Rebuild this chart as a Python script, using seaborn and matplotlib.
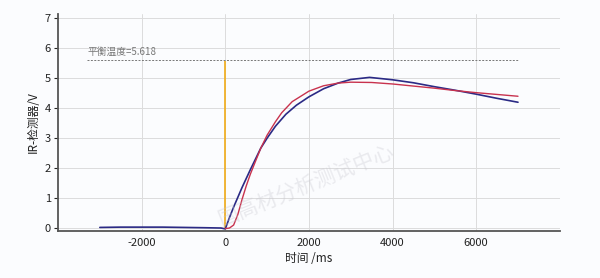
import matplotlib
matplotlib.use("Agg")
import matplotlib.pyplot as plt
import seaborn as sns
import pandas as pd

# ---- data ----
blue_t = [-3000, -2500, -2000, -1500, -1000, -500, -100, 0, 100, 200, 400, 600, 850, 1000,
          1200, 1450, 1700, 2000, 2350, 2700, 3000, 3450, 4000, 4500, 5000, 5500, 6000, 6500, 7000]
blue_v = [0.02, 0.03, 0.03, 0.03, 0.02, 0.01, 0.0, -0.03, 0.35, 0.7, 1.35, 1.95, 2.67, 3.0,
          3.4, 3.8, 4.1, 4.38, 4.65, 4.84, 4.96, 5.03, 4.95, 4.85, 4.72, 4.6, 4.47, 4.33, 4.2]
red_t = [0, 100, 200, 300, 400, 500, 600, 700, 850, 1000, 1200, 1350, 1600, 2000, 2350,
         2700, 3000, 3500, 4000, 4500, 5000, 5500, 6000, 6500, 7000]
red_v = [-0.02, 0.0, 0.1, 0.45, 0.95, 1.4, 1.8, 2.15, 2.67, 3.1, 3.55, 3.85, 4.22, 4.57, 4.75,
         4.84, 4.87, 4.86, 4.81, 4.74, 4.67, 4.59, 4.52, 4.46, 4.4]
trigger_t = [0]
trigger_top = [5.58]
equil_value = 5.618
equil_span = [-3300, 7000]
x_ticks = [-2000, 0, 2000, 4000, 6000]
y_ticks = [0, 1, 2, 3, 4, 5, 6, 7]

sns.set_theme(style="whitegrid")
plt.rcParams['font.family'] = ['Noto Sans CJK SC', 'DejaVu Sans']
plt.rcParams['axes.unicode_minus'] = False

fig = plt.figure(figsize=(6, 2.78), dpi=100, facecolor="#fbfcfe")
ax = fig.add_axes([0.0967, 0.169, 0.8363, 0.781])
ax.set_facecolor("#fbfcfe")

df_b = pd.DataFrame({"t": blue_t, "v": blue_v})
df_r = pd.DataFrame({"t": red_t, "v": red_v})
sns.lineplot(data=df_b, x="t", y="v", ax=ax, color="#2b2a85", linewidth=1.2, sort=False)
sns.lineplot(data=df_r, x="t", y="v", ax=ax, color="#c8324e", linewidth=1.0, sort=False)

ax.vlines(trigger_t, 0, trigger_top, color="#f0b028", linewidth=1.3, zorder=1)
ax.hlines(equil_value, equil_span[0], equil_span[1], color="#777777", linestyle=(0, (2, 1.5)),
          linewidth=0.7)
ax.text(equil_span[0], equil_value + 0.1, f"平衡温度={equil_value}", fontsize=7,
        color="#777777", va="bottom", ha="left")

ax.set_xlim(-4000, 8000)
ax.set_ylim(-0.1, 7.15)
ax.set_xticks(x_ticks)
ax.set_yticks(y_ticks)
ax.grid(True, color="#dcdcdc", linewidth=0.7)
for s in ["top", "right"]:
    ax.spines[s].set_visible(False)
for s in ["left", "bottom"]:
    ax.spines[s].set_visible(True)
    ax.spines[s].set_color("#555555")
    ax.spines[s].set_linewidth(1.3)
ax.tick_params(axis="both", labelsize=8, colors="#222222", length=3, width=0.8, pad=2,
               left=True, bottom=False)
ax.set_xlabel("时间 /ms", fontsize=8.5, color="#222222", labelpad=3)
ax.set_ylabel("IR-检测器/V", fontsize=8.5, color="#222222", labelpad=4)

fig.text(0.51, 0.33, "国高材分析测试中心", fontsize=15, color="#c8c8d0", alpha=0.35,
         rotation=22, ha="center", va="center")

fig.savefig("out.png", dpi=100, facecolor=fig.get_facecolor())
